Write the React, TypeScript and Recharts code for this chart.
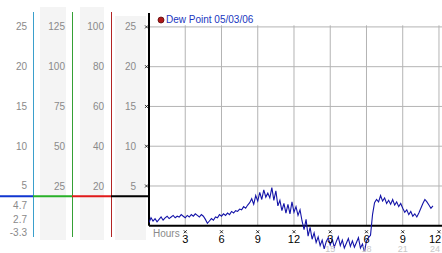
import React from 'react';
import { LineChart, Line, XAxis, YAxis, ReferenceLine, Legend } from 'recharts';

// dew point, one reading every 10 minutes from midnight
const DEW_POINT = [
  0.4, 1.0, 0.6, 0.9, 0.5, 0.8,
  1.1, 0.7, 1.0, 1.2, 0.9, 1.1,
  1.3, 1.0, 1.2, 1.1, 1.4, 1.2,
  1.0, 1.3, 1.1, 1.4, 1.2, 1.5,
  1.3, 1.1, 1.4, 1.2, 0.8, 0.3,
  0.6, 0.9, 0.7, 1.1, 1.0, 1.4,
  1.2, 1.5, 1.3, 1.6, 1.4, 1.8,
  1.6, 1.9, 1.8, 2.1, 2.0, 2.4,
  2.2, 2.6, 2.9, 3.4, 2.7, 3.8,
  3.1, 4.2, 3.3, 4.5, 3.6, 4.1,
  3.5, 4.8, 3.2, 4.4, 2.5, 3.2,
  1.9, 2.8, 1.6, 2.7, 1.5, 3.0,
  1.7, 2.4, 1.3, 2.0, 0.6, -0.5,
  0.8, -1.3, -0.2, -1.7, -0.9, -2.1,
  -1.4, -2.5, -1.8, -2.9, -2.0, -1.5,
  -2.4, -1.7, -2.7, -2.0, -1.4, -2.5,
  -1.8, -2.8, -2.2, -1.6, -2.6, -1.9,
  -2.7, -2.1, -1.5, -2.8, -2.3, -3.3,
  -1.9, -1.5, -1.2, 1.4, 2.9, 3.3,
  3.0, 3.8, 3.1, 3.5, 2.8, 3.2,
  2.7, 3.3, 2.6, 3.0, 2.4, 2.8,
  2.2, 1.7, 2.0, 1.4, 1.8, 1.2,
  1.5, 1.1, 1.6, 2.2, 2.8, 3.3,
  3.0, 2.6, 2.2, 2.5,
];
const SAMPLE_MINUTES = 10;
const SERIES_NAME = 'Dew Point 05/03/06';

const HOUR_TICKS = [3, 6, 9, 12, 15, 18, 21, 24];
const HOUR_LABELS = ['3', '6', '9', '12', '3', '6', '9', '12'];
const HOUR24_LABELS = ['', '', '', '', '15', '18', '21', '24'];
const Y_TICKS = [5, 10, 15, 20, 25];
const COL2_TICKS = [25, 50, 75, 100, 125];
const COL3_TICKS = [20, 40, 60, 80, 100];
const SUMMARY_LABELS = ['4.7', '2.7', '-3.3'];
const MARK_VALUE = 3.7;

const data = DEW_POINT.map((v, i) => ({ h: (i * SAMPLE_MINUTES) / 60, v }));

const W = 442;
const H = 253;
const X_AXIS_H = 1;
const PLOT_LEFT = 149;
const PLOT_TOP = 13;
const PLOT_BOTTOM = H - X_AXIS_H;
const Y_DOMAIN: [number, number] = [-3.3, 26.75];
const X_DOMAIN: [number, number] = [0, 24.25];
const FONT = '"Liberation Sans", Arial, sans-serif';
const LABEL_GRAY = '#8a8a8a';

const yPx = (v: number) => PLOT_TOP + ((Y_DOMAIN[1] - v) * (PLOT_BOTTOM - PLOT_TOP)) / (Y_DOMAIN[1] - Y_DOMAIN[0]);
const scaled = (k: number): [number, number] => [Y_DOMAIN[0] * k, Y_DOMAIN[1] * k];

function Cross({ cx, cy }: { cx: number; cy: number }) {
  return (
    <path d={`M${cx - 1.5},${cy - 1.5}L${cx + 1.5},${cy + 1.5}M${cx + 1.5},${cy - 1.5}L${cx - 1.5},${cy + 1.5}`} stroke="#000" strokeWidth={0.8} />
  );
}

function PlotYTick(props: any) {
  const { x, y, payload } = props;
  return (
    <g>
      <text x={x} y={y} dy={3.5} textAnchor="end" fill={LABEL_GRAY} fontSize={10} fontFamily={FONT}>
        {payload.value}
      </text>
      <Cross cx={PLOT_LEFT - 2.5} cy={y} />
    </g>
  );
}

function HourTick(props: any) {
  const { x, payload } = props;
  const i = HOUR_TICKS.indexOf(payload.value);
  const zero = yPx(0);
  // keep the last labels inside the picture
  const tx = Math.min(x, W - 7);
  return (
    <g>
      <Cross cx={x} cy={zero + 6} />
      <text x={tx} y={zero + 17} textAnchor="middle" fill="#000" fontSize={11} fontFamily={FONT}>
        {HOUR_LABELS[i]}
      </text>
      <text x={tx} y={zero + 26.5} textAnchor="middle" fill="#c8c8c8" fontSize={9} fontFamily={FONT}>
        {HOUR24_LABELS[i]}
      </text>
    </g>
  );
}

function renderLegend(p: any) {
  const items = p.payload && p.payload.length ? p.payload : [{ value: SERIES_NAME }];
  return (
    <div style={{ display: 'flex', alignItems: 'center', fontFamily: FONT, fontSize: 10, lineHeight: '12px', color: '#2036c0', whiteSpace: 'nowrap' }}>
      {items.map((e: any) => (
        <span key={e.value} style={{ display: 'inline-flex', alignItems: 'center' }}>
          <svg width={8} height={8} style={{ marginRight: 1 }}>
            <circle cx={4} cy={4} r={3} fill="#b01818" stroke="#5a0a0a" strokeWidth={0.8} />
          </svg>
          {e.value}
        </span>
      ))}
    </div>
  );
}

function Decor() {
  const markY = yPx(MARK_VALUE);
  const zero = yPx(0);
  return (
    <svg width={W} height={H} style={{ position: 'absolute', left: 0, top: 0 }}>
      <rect x={40} y={7} width={26} height={233} fill="#f4f4f4" />
      <rect x={80} y={7} width={24} height={233} fill="#f4f4f4" />
      <rect x={115} y={16} width={31} height={224} fill="#f4f4f4" />
      <line x1={33.5} x2={33.5} y1={12} y2={237} stroke="#3a9fcc" />
      <line x1={72.5} x2={72.5} y1={12} y2={237} stroke="#35a035" />
      <line x1={111.5} x2={111.5} y1={12} y2={237} stroke="#b22424" />
      <line x1={0} x2={33} y1={markY} y2={markY} stroke="#1036d0" strokeWidth={2} />
      <line x1={33} x2={72} y1={markY} y2={markY} stroke="#28b028" strokeWidth={2} />
      <line x1={72} x2={111} y1={markY} y2={markY} stroke="#e01a1a" strokeWidth={2} />
      <line x1={111} x2={PLOT_LEFT} y1={markY} y2={markY} stroke="#000" strokeWidth={2} />
      {SUMMARY_LABELS.map((s, i) => (
        <text key={s} x={27} y={209 + i * 13.5} textAnchor="end" fill={LABEL_GRAY} fontSize={10} fontFamily={FONT}>
          {s}
        </text>
      ))}
      <text x={153} y={zero + 11} fill={LABEL_GRAY} fontSize={10} fontFamily={FONT}>
        Hours
      </text>
    </svg>
  );
}

export default function App() {
  return (
    <div style={{ position: 'absolute', left: 0, top: 0, width: W, height: H, background: '#fff', overflow: 'hidden' }}>
      <Decor />
      <div style={{ position: 'absolute', left: 0, top: 0 }}>
        <LineChart width={W} height={H} data={data} margin={{ top: PLOT_TOP, right: 0, bottom: 0, left: 0 }}>
          <XAxis
            dataKey="h"
            type="number"
            domain={X_DOMAIN}
            ticks={HOUR_TICKS}
            interval={0}
            height={X_AXIS_H}
            axisLine={false}
            tickLine={false}
            tick={<HourTick />}
            allowDataOverflow
          />
          {/* Recharts stacks these left axes as a, c, b, d from the page edge */}
          <YAxis yAxisId="a" width={33} domain={Y_DOMAIN} ticks={Y_TICKS} interval={0} axisLine={false} tickLine={false} tickSize={0} tickMargin={13} tick={{ fill: LABEL_GRAY, fontSize: 10, fontFamily: FONT }} allowDataOverflow />
          <YAxis yAxisId="c" width={39} domain={scaled(5)} ticks={COL2_TICKS} interval={0} axisLine={false} tickLine={false} tickSize={0} tickMargin={12} tick={{ fill: LABEL_GRAY, fontSize: 10, fontFamily: FONT }} allowDataOverflow />
          <YAxis yAxisId="b" width={39} domain={scaled(4)} ticks={COL3_TICKS} interval={0} axisLine={false} tickLine={false} tickSize={0} tickMargin={12} tick={{ fill: LABEL_GRAY, fontSize: 10, fontFamily: FONT }} allowDataOverflow />
          <YAxis yAxisId="d" width={38} domain={Y_DOMAIN} ticks={Y_TICKS} interval={0} axisLine={false} tickLine={false} tickSize={0} tickMargin={11} tick={<PlotYTick />} allowDataOverflow />
          {Y_TICKS.map((t) => (
            <ReferenceLine key={'h' + t} yAxisId="d" segment={[{ x: 0, y: t }, { x: X_DOMAIN[1], y: t }]} stroke="#b4b4b4" strokeWidth={1} />
          ))}
          {HOUR_TICKS.map((t) => (
            <ReferenceLine key={'v' + t} yAxisId="d" segment={[{ x: t, y: 0 }, { x: t, y: 25.2 }]} stroke="#b4b4b4" strokeWidth={1} />
          ))}
          <ReferenceLine yAxisId="d" segment={[{ x: 0, y: 0 }, { x: 0, y: Y_DOMAIN[1] }]} stroke="#000" strokeWidth={2} />
          <ReferenceLine yAxisId="d" y={0} stroke="#000" strokeWidth={2} />
          <Legend verticalAlign="middle" align="center" layout="horizontal" wrapperStyle={{ top: 14, left: 157, width: 'auto' }} content={renderLegend} />
          <Line yAxisId="d" dataKey="v" name={SERIES_NAME} stroke="#1414a8" strokeWidth={1.1} dot={false} isAnimationActive={false} />
        </LineChart>
      </div>
    </div>
  );
}
